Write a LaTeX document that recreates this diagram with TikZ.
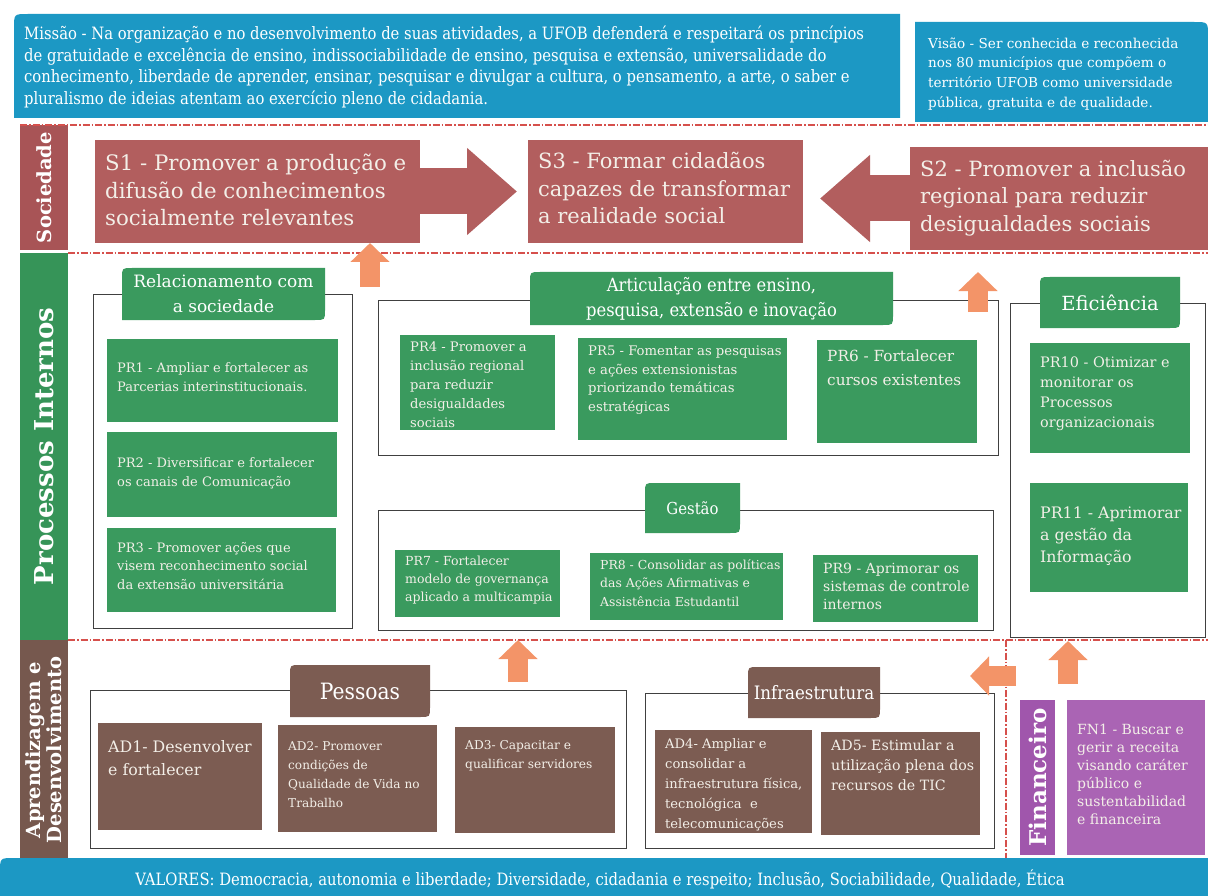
\documentclass[tikz,border=0pt]{standalone}
\usepackage{fontspec}
\setmainfont{DejaVu Serif}
\newfontfamily\condf[FakeStretch=0.87]{DejaVu Serif}
\newfontfamily\semic[FakeStretch=0.9]{DejaVu Serif}
\usetikzlibrary{arrows.meta}
\definecolor{tealc}{RGB}{28,152,196}
\definecolor{sc}{RGB}{178,94,94}
\definecolor{socl}{RGB}{168,84,86}
\definecolor{grc}{RGB}{58,154,94}
\definecolor{grl}{RGB}{54,148,88}
\definecolor{brc}{RGB}{124,92,82}
\definecolor{brl}{RGB}{118,88,78}
\definecolor{puc}{RGB}{170,100,180}
\definecolor{pul}{RGB}{160,86,172}
\definecolor{orgc}{RGB}{243,148,104}
\definecolor{dred}{RGB}{214,80,76}
\definecolor{txtc}{RGB}{243,239,232}
\newcommand\fs[2]{\fontsize{#1}{#2}\selectfont}
% box: style, name, x1, y1, x2, y2, font, y of text centre, text
\newcommand\mybox[9]{%
  \node[#1, anchor=north west, minimum width={(#5-#3)*1pt}, minimum height={(#6-#4)*1pt}] (#2) at (#3,#4) {};
  \node[boxtxt, anchor=west, font=#7] (#2t) at ({#3+10},#8) {#9};}
% frame: name, x1, y1, x2, y2
\newcommand\myframe[5]{%
  \node[frame, anchor=north west, minimum width={(#4-#2)*1pt}, minimum height={(#5-#3)*1pt}] (#1) at (#2,#3) {};}
% title: colour, name, x1, y1, x2, y2, font, text
\newcommand\mytitle[8]{%
  \fill[#1] (#3,#6) -- (#3,{#4+10}) .. controls (#3,#4) .. ({#3+10},#4) -- (#5,#4) -- (#5,{#6-10}) .. controls (#5,#6) .. ({#5-10},#6) -- cycle;
  \node[ttxt, font=#7] (#2) at ({(#3+#5)/2},{(#4+#6)/2}) {#8};}
\begin{document}
\begin{tikzpicture}[x=1pt,y=-1pt,
  grbox/.style={fill=grc, inner sep=0, outer sep=0},
  brbox/.style={fill=brc, inner sep=0, outer sep=0},
  pubox/.style={fill=puc, inner sep=0, outer sep=0},
  sbox/.style={fill=sc, inner sep=0, outer sep=0},
  boxtxt/.style={text=txtc, align=left, inner sep=0},
  ttxt/.style={text=white, align=center, inner sep=0},
  frame/.style={draw=black!75, line width=0.6pt, inner sep=0, outer sep=0},
  band/.style={rotate=90, text=white, inner sep=0, outer sep=0, align=center},
  redline/.style={draw=dred, line width=1.1pt, dash pattern=on 7pt off 2pt on 1.5pt off 2pt},
  orarrow/.style={draw=orgc, line width=20pt, -{Triangle[length=19pt,width=38pt]}},
  sarrow/.style={draw=sc, line width=46pt, -{Triangle[length=50pt,width=84pt]}}]
\useasboundingbox (0,0) rectangle (1208,896);
\fill[white] (0,0) rectangle (1208,896);
% mission and vision
\fill[tealc] (14,118) -- (14,28) .. controls (14,14) .. (28,14) -- (900,14) -- (900,118) -- cycle;
\node[boxtxt, text=white, anchor=west, font={\condf\fs{17}{21.7}}] (missao) at (24,67) {Missão - Na organização e no desenvolvimento de suas atividades, a UFOB defenderá e respeitará os princípios\\de gratuidade e excelência de ensino, indissociabilidade de ensino, pesquisa e extensão, universalidade do\\conhecimento, liberdade de aprender, ensinar, pesquisar e divulgar a cultura, o pensamento, a arte, o saber e\\pluralismo de ideias atentam ao exercício pleno de cidadania.};
\fill[tealc] (915,22) -- (1194,22) .. controls (1208,22) .. (1208,36) -- (1208,122) -- (915,122) -- cycle;
\node[boxtxt, text=white, anchor=west, font={\fs{13.6}{19.7}}] (visao) at (928,74) {Visão - Ser conhecida e reconhecida\\nos 80 municípios que compõem o\\território UFOB como universidade\\pública, gratuita e de qualidade.};
% bands
\node[band, fill=socl, minimum width=125pt, minimum height=48pt, font={\bfseries\fs{19.5}{22}}] (lsoc) at (44,187.5) {Sociedade};
\node[band, fill=grl, minimum width=387pt, minimum height=48pt, font={\bfseries\fs{26}{28}}] (lpi) at (44,446.5) {Processos Internos};
\node[band, fill=brl, minimum width=220pt, minimum height=48pt, font={\bfseries\fs{19.5}{21}}] (lad) at (44,750) {Aprendizagem e\\Desenvolvimento};
% dashed separators
\draw[redline] (20,125) -- (1208,125);
\draw[redline] (68,253) -- (1208,253);
\draw[redline] (68,640) -- (1208,640);
\draw[redline] (1006,640) -- (1006,858);
% Sociedade
\mybox{sbox}{s1}{95}{140}{420}{243}{\fs{21.3}{27.5}}{190}{S1 - Promover a produção e\\difusão de conhecimentos\\socialmente relevantes}
\mybox{sbox}{s3}{528}{140}{803}{243}{\fs{21}{27.5}}{188}{S3 - Formar cidadãos\\capazes de transformar\\a realidade social}
\mybox{sbox}{s2}{910}{147}{1208}{250}{\fs{21}{27.5}}{198}{S2 - Promover a inclusão\\regional para reduzir\\desigualdades sociais}
\draw[sarrow, shorten >=11pt] (s1.east) -- (s3.west);
\draw[sarrow, shorten >=17pt] (s2.west) -- (s2.west -| s3.east);
% frames
\myframe{frel}{93}{294}{352}{628}
\myframe{fart}{378}{300}{998}{455}
\myframe{fges}{378}{510}{993}{630}
\myframe{fefi}{1010}{303}{1205}{637}
\myframe{fpes}{90}{690}{626}{848}
\myframe{finf}{645}{693}{994}{848}
% titles
\mytitle{grc}{trel}{122}{268}{325}{320}{\fs{17}{25}}{Relacionamento com\\a sociedade}
\mytitle{grc}{tart}{530}{272}{893}{325}{\semic\fs{18.2}{25}}{Articulação entre ensino,\\pesquisa, extensão e inovação}
\mytitle{grc}{tges}{645}{483}{740}{533}{\semic\fs{16.5}{20}}{Gestão}
\mytitle{grc}{tefi}{1040}{277}{1180}{328}{\fs{19.5}{22}}{Eficiência}
\mytitle{brc}{tpes}{290}{665}{430}{717}{\semic\fs{22.5}{24}}{Pessoas}
\mytitle{brc}{tinf}{748}{667}{880}{718}{\semic\fs{18.5}{22}}{Infraestrutura}
% processos internos
\mybox{grbox}{pr1}{107}{339}{338}{422}{\fs{13}{19}}{377}{PR1 - Ampliar e fortalecer as\\Parcerias interinstitucionais.}
\mybox{grbox}{pr2}{107}{432}{337}{517}{\fs{13}{19}}{473}{PR2 - Diversificar e fortalecer\\os canais de Comunicação}
\mybox{grbox}{pr3}{107}{528}{336}{612}{\fs{13}{18.5}}{566}{PR3 - Promover ações que\\visem reconhecimento social\\da extensão universitária}
\mybox{grbox}{pr4}{400}{335}{555}{430}{\fs{13.1}{19}}{385}{PR4 - Promover a\\inclusão regional\\para reduzir\\desigualdades\\sociais}
\mybox{grbox}{pr5}{578}{338}{787}{440}{\fs{13.2}{18.5}}{380}{PR5 - Fomentar as pesquisas\\e ações extensionistas\\priorizando temáticas\\estratégicas}
\mybox{grbox}{pr6}{817}{340}{977}{443}{\fs{15.3}{24}}{368}{PR6 - Fortalecer\\cursos existentes}
\mybox{grbox}{pr7}{395}{550}{560}{617}{\fs{12.5}{18}}{580}{PR7 - Fortalecer\\modelo de governança\\aplicado a multicampia}
\mybox{grbox}{pr8}{590}{553}{783}{620}{\fs{12.4}{18.5}}{583}{PR8 - Consolidar as políticas\\das Ações Afirmativas e\\Assistência Estudantil}
\mybox{grbox}{pr9}{813}{555}{978}{622}{\fs{14}{18}}{586}{PR9 - Aprimorar os\\sistemas de controle\\internos}
\mybox{grbox}{pr10}{1030}{343}{1190}{453}{\fs{14.4}{20}}{394}{PR10 - Otimizar e\\monitorar os\\Processos\\organizacionais}
\mybox{grbox}{pr11}{1030}{483}{1188}{592}{\fs{15.8}{22}}{536}{PR11 - Aprimorar\\a gestão da\\Informação}
% aprendizagem
\mybox{brbox}{ad1}{98}{723}{262}{830}{\fs{15.8}{23}}{758}{AD1- Desenvolver\\e fortalecer}
\mybox{brbox}{ad2}{278}{725}{437}{832}{\fs{12.1}{19}}{775}{AD2- Promover\\condições de\\Qualidade de Vida no\\Trabalho}
\mybox{brbox}{ad3}{455}{727}{615}{833}{\fs{12.2}{19}}{756}{AD3- Capacitar e\\qualificar servidores}
\mybox{brbox}{ad4}{655}{730}{812}{833}{\fs{13.1}{20}}{785}{AD4- Ampliar e\\consolidar a\\infraestrutura física,\\tecnológica\ \ e\\telecomunicações}
\mybox{brbox}{ad5}{821}{732}{980}{835}{\fs{14.2}{20}}{765}{AD5- Estimular a\\utilização plena dos\\recursos de TIC}
% financeiro
\node[band, fill=pul, minimum width=155pt, minimum height=35pt, font={\bfseries\fs{23}{24}}] (lfin) at (1037.5,777.5) {Financeiro};
\mybox{pubox}{fn1}{1067}{700}{1205}{855}{\fs{14}{18}}{774}{FN1 - Buscar e\\gerir a receita\\visando caráter\\público e\\sustentabilidad\\e financeira}
% orange arrows
\coordinate (u1a) at (370,287); \coordinate (u1b) at (370,243);
\coordinate (u2a) at (978,312); \coordinate (u2b) at (978,272);
\coordinate (u3a) at (518,682); \coordinate (u3b) at (518,640);
\coordinate (u4a) at (1068,684); \coordinate (u4b) at (1068,641);
\coordinate (u5a) at (1016,676); \coordinate (u5b) at (970,676);
\draw[orarrow] (u1a) -- (u1b);
\draw[orarrow] (u2a) -- (u2b);
\draw[orarrow] (u3a) -- (u3b);
\draw[orarrow] (u4a) -- (u4b);
\draw[orarrow] (u5a) -- (u5b);
% valores
\fill[tealc] (0,896) -- (0,872) .. controls (0,858) .. (14,858) -- (1208,858) -- (1208,896) -- cycle;
\node[ttxt, font={\condf\fs{17}{20}}] (valores) at (600,879) {VALORES: Democracia, autonomia e liberdade; Diversidade, cidadania e respeito; Inclusão, Sociabilidade, Qualidade, Ética};
\end{tikzpicture}
\end{document}
